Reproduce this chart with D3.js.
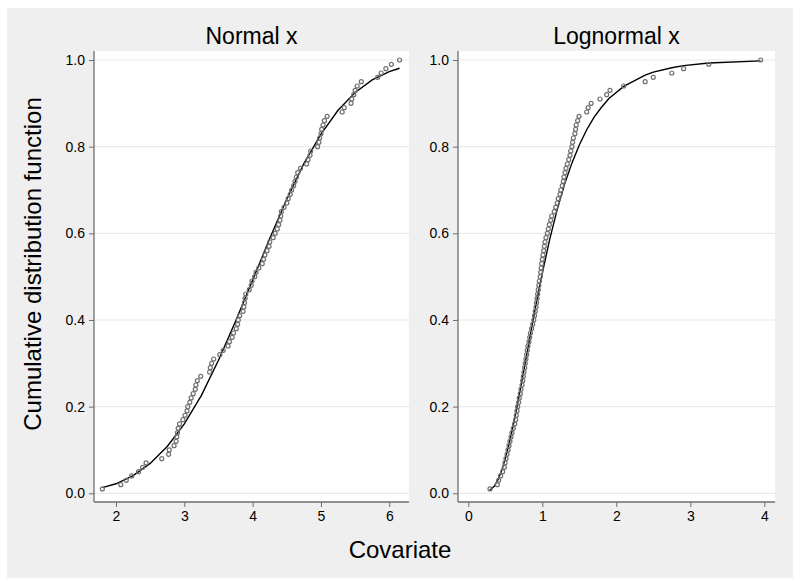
<!DOCTYPE html>
<html>
<head>
<meta charset="utf-8">
<script src="https://cdn.jsdelivr.net/npm/d3@7"></script>
<style>
  body { margin: 0; background: #fff; }
  text { font-family: "Liberation Sans", Arial, sans-serif; }
</style>
</head>
<body>
<div id="chart"></div>
<script>
// empirical CDF levels (shared by both panels)
var cdfY = [0.01,0.02,0.03,0.04,0.05,0.06,0.07,0.08,0.09,0.10,
            0.11,0.12,0.13,0.14,0.15,0.16,0.17,0.18,0.19,0.20,
            0.21,0.22,0.23,0.24,0.25,0.26,0.27,0.28,0.29,0.30,
            0.31,0.32,0.33,0.34,0.35,0.36,0.37,0.38,0.39,0.40,
            0.41,0.42,0.43,0.44,0.45,0.46,0.47,0.48,0.49,0.50,
            0.51,0.52,0.53,0.54,0.55,0.56,0.57,0.58,0.59,0.60,
            0.61,0.62,0.63,0.64,0.65,0.66,0.67,0.68,0.69,0.70,
            0.71,0.72,0.73,0.74,0.75,0.76,0.77,0.78,0.79,0.80,
            0.81,0.82,0.83,0.84,0.85,0.86,0.87,0.88,0.89,0.90,
            0.91,0.92,0.93,0.94,0.95,0.96,0.97,0.98,0.99,1.00];

var normalX = [1.80,2.07,2.15,2.23,2.33,2.39,2.44,2.67,2.77,2.78,
               2.85,2.88,2.89,2.90,2.91,2.93,2.98,3.01,3.04,3.05,
               3.08,3.10,3.13,3.16,3.17,3.19,3.24,3.37,3.38,3.40,
               3.43,3.52,3.57,3.64,3.66,3.70,3.72,3.76,3.78,3.79,
               3.81,3.86,3.87,3.88,3.89,3.90,3.95,3.98,3.99,4.03,
               4.05,4.09,4.14,4.16,4.18,4.21,4.24,4.25,4.30,4.33,
               4.36,4.38,4.40,4.41,4.42,4.46,4.50,4.52,4.55,4.57,
               4.60,4.62,4.64,4.66,4.70,4.79,4.81,4.84,4.85,4.95,
               4.97,4.98,5.00,5.01,5.03,5.05,5.09,5.31,5.34,5.44,
               5.45,5.48,5.50,5.53,5.59,5.83,5.88,5.95,6.03,6.15];

var lognormalX = [0.293,0.392,0.410,0.437,0.464,0.487,0.496,0.509,0.523,0.536,
                  0.550,0.563,0.577,0.590,0.608,0.626,0.640,0.649,0.658,0.667,
                  0.681,0.689,0.703,0.712,0.726,0.735,0.744,0.753,0.762,0.770,
                  0.779,0.788,0.797,0.806,0.820,0.830,0.840,0.855,0.870,0.885,
                  0.895,0.905,0.915,0.922,0.930,0.937,0.945,0.953,0.960,0.972,
                  0.978,0.985,0.992,1.000,1.009,1.019,1.027,1.036,1.050,1.068,
                  1.081,1.095,1.114,1.127,1.162,1.181,1.203,1.216,1.239,1.249,
                  1.270,1.284,1.293,1.307,1.320,1.338,1.357,1.374,1.384,1.400,
                  1.410,1.420,1.440,1.450,1.459,1.478,1.496,1.600,1.620,1.660,
                  1.780,1.870,1.915,2.100,2.390,2.500,2.750,2.910,3.250,3.950];

// fitted CDF curves
var normalCurveX = [1.80,2.00,2.25,2.50,2.75,3.00,3.25,3.50,3.75,4.00,4.25,4.50,4.75,5.00,5.25,5.50,5.75,6.00,6.15];
var normalCurveY = [0.013,0.022,0.041,0.069,0.108,0.160,0.226,0.307,0.397,0.492,0.588,0.679,0.761,0.829,0.884,0.925,0.954,0.973,0.981];

var lognormalCurveX = [0.29,0.35,0.40,0.45,0.50,0.55,0.60,0.65,0.70,0.75,0.80,0.85,0.90,0.95,1.00,
                       1.10,1.20,1.30,1.40,1.50,1.60,1.70,1.80,1.90,2.10,2.39,2.50,2.75,2.91,3.25,3.95];
var lognormalCurveY = [0.007,0.016,0.031,0.052,0.080,0.113,0.151,0.193,0.237,0.283,0.330,0.377,0.422,0.466,0.508,
                       0.586,0.654,0.713,0.762,0.804,0.839,0.868,0.891,0.911,0.939,0.965,0.972,0.982,0.987,0.993,0.998];

var yTicks = [0, 0.2, 0.4, 0.6, 0.8, 1.0];
var normalTicks = [2, 3, 4, 5, 6];
var lognormalTicks = [0, 1, 2, 3, 4];

var W = 800, H = 585;
var svg = d3.select("#chart").append("svg")
    .attr("width", W)
    .attr("height", H);

svg.append("rect").attr("x", 7).attr("y", 8).attr("width", 786).attr("height", 570)
    .attr("fill", "#efefef");

var yScale = d3.scaleLinear().domain([0, 1]).range([493.3, 60]);

var panels = [
  {title: "Normal x", xs: normalX, cx: normalCurveX, cy: normalCurveY, ticks: normalTicks,
   dom: [2, 6], rng: [116, 389.3], left: 94, right: 409},
  {title: "Lognormal x", xs: lognormalX, cx: lognormalCurveX, cy: lognormalCurveY, ticks: lognormalTicks,
   dom: [0, 4], rng: [468.3, 764.3], left: 458, right: 775}
];

var plotTop = 51, plotBottom = 502;

panels.forEach(function(p) {
  var xScale = d3.scaleLinear().domain(p.dom).range(p.rng);
  var g = svg.append("g");

  g.append("rect")
    .attr("x", p.left).attr("y", plotTop)
    .attr("width", p.right - p.left).attr("height", plotBottom - plotTop)
    .attr("fill", "#fff");

  // grid
  g.selectAll("line.grid").data(yTicks).enter().append("line")
    .attr("x1", p.left).attr("x2", p.right)
    .attr("y1", function(d) { return yScale(d); })
    .attr("y2", function(d) { return yScale(d); })
    .style("stroke", "#eaeaea").style("stroke-width", 1.2);

  // axes
  var yAxis = d3.axisLeft(yScale).tickValues(yTicks).tickSize(5).tickSizeOuter(0).tickPadding(4)
    .tickFormat(d3.format(".1f"));
  var ya = g.append("g").attr("transform", "translate(" + p.left + ",0)").call(yAxis);
  ya.select(".domain").remove();
  ya.append("line").attr("x1", 0).attr("x2", 0).attr("y1", plotTop).attr("y2", plotBottom)
    .style("stroke", "#6e6e6e").style("stroke-width", 1.3);

  var xAxis = d3.axisBottom(xScale).tickValues(p.ticks).tickSize(5).tickSizeOuter(0).tickPadding(4)
    .tickFormat(d3.format("d"));
  var xa = g.append("g").attr("transform", "translate(0," + plotBottom + ")").call(xAxis);
  xa.select(".domain").remove();
  xa.append("line").attr("x1", p.left).attr("x2", p.right).attr("y1", 0).attr("y2", 0)
    .style("stroke", "#6e6e6e").style("stroke-width", 1.3);

  g.selectAll(".tick line").style("stroke", "#6e6e6e").style("stroke-width", 1);
  g.selectAll(".tick text").style("font-size", "14px").style("fill", "#000")
    .style("font-family", "Liberation Sans, Arial, sans-serif");

  // fitted curve
  var line = d3.line()
    .x(function(d, i) { return xScale(p.cx[i]); })
    .y(function(d, i) { return yScale(p.cy[i]); });
  g.append("path").datum(p.cx).attr("d", line)
    .attr("fill", "none").style("stroke", "#000").style("stroke-width", 1.4);

  // empirical points
  g.selectAll("circle").data(p.xs).enter().append("circle")
    .attr("cx", function(d) { return xScale(d); })
    .attr("cy", function(d, i) { return yScale(cdfY[i]); })
    .attr("r", 2)
    .style("fill", "none")
    .style("stroke", "#707070")
    .style("stroke-width", 1.2);

  g.append("text")
    .attr("x", (p.left + p.right) / 2).attr("y", 44)
    .attr("text-anchor", "middle")
    .style("font-size", "23px")
    .text(p.title);
});

svg.append("text")
  .attr("x", 400).attr("y", 558)
  .attr("text-anchor", "middle")
  .style("font-size", "24px")
  .text("Covariate");

svg.append("text")
  .attr("transform", "translate(41,264) rotate(-90)")
  .attr("text-anchor", "middle")
  .style("font-size", "24px")
  .text("Cumulative distribution function");
</script>
</body>
</html>
